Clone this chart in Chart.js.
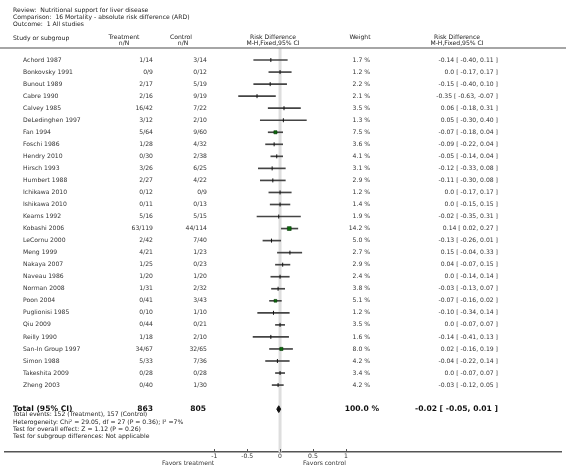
<!DOCTYPE html>
<html>
<head>
<meta charset="utf-8">
<script src="https://cdn.jsdelivr.net/npm/chart.js@4.4.0/dist/chart.umd.min.js"></script>
<style>
  body { margin: 0; background: #fff; }
  canvas { display: block; }
</style>
</head>
<body>
<canvas id="forest" width="566" height="469"></canvas>
<script>
// data
var studies = ['Achord 1987', 'Bonkovsky 1991', 'Bunout 1989', 'Cabre 1990', 'Calvey 1985',
  'DeLedinghen 1997', 'Fan 1994', 'Foschi 1986', 'Hendry 2010', 'Hirsch 1993', 'Humbert 1988',
  'Ichikawa 2010', 'Ishikawa 2010', 'Kearns 1992', 'Kobashi 2006', 'LeCornu 2000', 'Meng 1999',
  'Nakaya 2007', 'Naveau 1986', 'Norman 2008', 'Poon 2004', 'Puglionisi 1985', 'Qiu 2009',
  'Reilly 1990', 'San-In Group 1997', 'Simon 1988', 'Takeshita 2009', 'Zheng 2003'];
var treatment = ['1/14', '0/9', '2/17', '2/16', '16/42', '3/12', '5/64', '1/28', '0/30', '3/26', '2/27',
  '0/12', '0/11', '5/16', '63/119', '2/42', '4/21', '1/25', '1/20', '1/31', '0/41', '0/10', '0/44',
  '1/18', '34/67', '5/33', '0/28', '0/40'];
var control = ['3/14', '0/12', '5/19', '9/19', '7/22', '2/10', '9/60', '4/32', '2/38', '6/25', '4/22',
  '0/9', '0/13', '5/15', '44/114', '7/40', '1/23', '0/23', '1/20', '2/32', '3/43', '1/10', '0/21',
  '2/10', '32/65', '7/36', '0/28', '1/30'];
var weights = [1.7, 1.2, 2.2, 2.1, 3.5, 1.3, 7.5, 3.6, 4.1, 3.1, 2.9, 1.2, 1.4, 1.9, 14.2, 5.0, 2.7,
  2.9, 2.4, 3.8, 5.1, 1.2, 3.5, 1.6, 8.0, 4.2, 3.4, 4.2];
var rd = [-0.14, 0.0, -0.15, -0.35, 0.06, 0.05, -0.07, -0.09, -0.05, -0.12, -0.11, 0.0, 0.0, -0.02,
  0.14, -0.13, 0.15, 0.04, 0.0, -0.03, -0.07, -0.10, 0.0, -0.14, 0.02, -0.04, 0.0, -0.03];
var ciLow = [-0.40, -0.17, -0.40, -0.63, -0.18, -0.30, -0.18, -0.22, -0.14, -0.33, -0.30, -0.17,
  -0.15, -0.35, 0.02, -0.26, -0.04, -0.07, -0.14, -0.13, -0.16, -0.34, -0.07, -0.41, -0.16, -0.22,
  -0.07, -0.12];
var ciHigh = [0.11, 0.17, 0.10, -0.07, 0.31, 0.40, 0.04, 0.04, 0.04, 0.08, 0.08, 0.17, 0.15, 0.31,
  0.27, 0.01, 0.33, 0.15, 0.14, 0.07, 0.02, 0.14, 0.07, 0.13, 0.19, 0.14, 0.07, 0.05];

var totalLabel = 'Total (95% CI)';
var totalN = ['863', '805'];
var totalWeight = 100.0;
var totalRd = -0.02, totalLow = -0.05, totalHigh = 0.01;

var headerLines = ['Review:  Nutritional support for liver disease',
  'Comparison:  16 Mortality - absolute risk difference (ARD)',
  'Outcome:  1 All studies'];
var footerLines = ['Total events: 152 (Treatment), 157 (Control)',
  'Heterogeneity: Chi\u00b2 = 29.05, df = 27 (P = 0.36); I\u00b2 =7%',
  'Test for overall effect: Z = 1.12 (P = 0.26)',
  'Test for subgroup differences: Not applicable'];
var tickValues = [-1, -0.5, 0, 0.5, 1];
var tickLabels = ['-1', '-0.5', '0', '0.5', '1'];
var favorsLabels = ['Favors treatment', 'Favors control'];

var totalRow = studies.length + 1;
var FONT = '"DejaVu Sans", Verdana, sans-serif';

function f(size, bold) { return (bold ? 'bold ' : '') + size + 'px ' + FONT; }
function num(v) { return v === 0 ? '0.0' : v.toFixed(2); }
function ciText(e, lo, hi) { return num(e) + ' [ ' + num(lo) + ', ' + num(hi) + ' ]'; }
function side(w) { return 1.2 + 0.7 * Math.sqrt(w); }

var tablePlugin = {
  id: 'table',
  beforeDatasetsDraw: function (chart) {
    var ctx = chart.ctx, a = chart.chartArea, x0 = chart.scales.x.getPixelForValue(0);
    ctx.save();
    ctx.strokeStyle = '#dedede';
    ctx.lineWidth = 3;
    ctx.beginPath();
    ctx.moveTo(x0, a.top);
    ctx.lineTo(x0, a.bottom);
    ctx.stroke();
    ctx.restore();
  },
  afterDraw: function (chart) {
    var ctx = chart.ctx, a = chart.chartArea, xs = chart.scales.x, ys = chart.scales.y;
    ctx.save();
    ctx.textBaseline = 'middle';
    ctx.fillStyle = '#222';
    ctx.font = f(6.1);
    ctx.textAlign = 'left';
    headerLines.forEach(function (t, i) { ctx.fillText(t, 13, 10 + i * 7); });
    ctx.fillText('Study or subgroup', 13, 38);

    ctx.textAlign = 'center';
    ctx.fillText('Treatment', 124, 37.5);
    ctx.fillText('n/N', 124, 43.5);
    ctx.fillText('Control', 181, 37.5);
    ctx.fillText('n/N', 183, 43.5);
    ctx.fillText('Risk Difference', 273, 37.5);
    ctx.fillText('M-H,Fixed,95% CI', 273, 43.5);
    ctx.fillText('Weight', 360, 37.5);
    ctx.fillText('Risk Difference', 457, 37.5);
    ctx.fillText('M-H,Fixed,95% CI', 457, 43.5);

    // header rule
    ctx.strokeStyle = '#888';
    ctx.lineWidth = 1.5;
    ctx.beginPath();
    ctx.moveTo(0, a.top);
    ctx.lineTo(566, a.top);
    ctx.stroke();

    ctx.fillStyle = '#333';
    studies.forEach(function (s, i) {
      var y = ys.getPixelForValue(i);
      ctx.textAlign = 'left';
      ctx.fillText(s, 23, y);
      ctx.textAlign = 'right';
      ctx.fillText(treatment[i], 153, y);
      ctx.fillText(control[i], 207, y);
      ctx.fillText(weights[i].toFixed(1) + ' %', 370, y);
      ctx.fillText(ciText(rd[i], ciLow[i], ciHigh[i]), 498, y);
    });

    var yt = ys.getPixelForValue(totalRow);
    ctx.fillStyle = '#111';
    ctx.font = f(7.6, true);
    ctx.textAlign = 'left';
    ctx.fillText(totalLabel, 13, yt);
    ctx.textAlign = 'right';
    ctx.fillText(totalN[0], 153, yt);
    ctx.fillText(totalN[1], 206, yt);
    ctx.fillText(totalWeight.toFixed(1) + ' %', 379, yt);
    ctx.fillText(ciText(totalRd, totalLow, totalHigh), 498, yt);

    ctx.font = f(6.1);
    ctx.fillStyle = '#222';
    ctx.textAlign = 'left';
    footerLines.forEach(function (t, i) { ctx.fillText(t, 13, yt + 5.5 + i * 7.3); });

    // upward tick marks on the axis
    ctx.strokeStyle = '#555';
    ctx.lineWidth = 1;
    tickValues.forEach(function (v) {
      var px = Math.round(xs.getPixelForValue(v)) + 0.5;
      ctx.beginPath();
      ctx.moveTo(px, a.bottom);
      ctx.lineTo(px, a.bottom - 3);
      ctx.stroke();
    });

    ctx.fillStyle = '#333';
    ctx.textAlign = 'right';
    ctx.fillText(favorsLabels[0], xs.getPixelForValue(-1), 463);
    ctx.fillText(favorsLabels[1], xs.getPixelForValue(1), 463);
    ctx.restore();
  }
};

var diamondHalf = 0.28;
var ctx = document.getElementById('forest').getContext('2d');
var chart = new Chart(ctx, {
  type: 'scatter',
  data: {
    datasets: [{
      type: 'bar',
      indexAxis: 'y',
      data: studies.map(function (s, i) { return { x: [ciLow[i], ciHigh[i]], y: i }; }),
      backgroundColor: '#444',
      borderWidth: 0,
      barThickness: 1,
      grouped: false,
      order: 3
    }, {
      data: studies.map(function (s, i) { return { x: rd[i], y: i }; }),
      pointStyle: function (c) { return weights[c.dataIndex] > 5 ? 'rect' : 'line'; },
      rotation: function (c) { return weights[c.dataIndex] > 5 ? 0 : 90; },
      radius: function (c) {
        var w = weights[c.dataIndex];
        return w > 5 ? side(w) / Math.SQRT2 : 2;
      },
      backgroundColor: '#0b6b0b',
      borderColor: function (c) { return weights[c.dataIndex] > 5 ? '#063806' : '#111'; },
      borderWidth: function (c) { return weights[c.dataIndex] > 5 ? 0.6 : 1; },
      order: 1
    }, {
      type: 'line',
      data: [{ x: totalLow, y: totalRow }, { x: totalRd, y: totalRow - diamondHalf }, { x: totalHigh, y: totalRow }],
      borderColor: '#111',
      borderWidth: 1,
      backgroundColor: '#111',
      pointRadius: 0,
      tension: 0,
      fill: '+1',
      order: 2
    }, {
      type: 'line',
      data: [{ x: totalLow, y: totalRow }, { x: totalRd, y: totalRow + diamondHalf }, { x: totalHigh, y: totalRow }],
      borderColor: '#111',
      borderWidth: 1,
      pointRadius: 0,
      tension: 0,
      fill: false,
      order: 2
    }]
  },
  options: {
    responsive: false,
    animation: false,
    devicePixelRatio: 1,
    layout: { padding: { top: 48, left: 0, right: 0, bottom: 0 } },
    plugins: { legend: { display: false }, tooltip: { enabled: false } },
    scales: {
      x: {
        type: 'linear',
        min: -280 / 67,
        max: 286 / 67,
        offset: false,
        afterBuildTicks: function (s) { s.ticks = tickValues.map(function (v) { return { value: v }; }); },
        afterFit: function (s) { s.height = 17; },
        grid: { display: false, drawTicks: false, tickLength: 0 },
        border: { display: true, color: '#555', width: 1.5 },
        ticks: {
          autoSkip: false,
          maxRotation: 0,
          padding: 1,
          color: '#333',
          font: { family: FONT, size: 6.1 },
          callback: function (v, i) { return tickLabels[i]; }
        }
      },
      y: {
        type: 'linear',
        display: false,
        reverse: true,
        offset: false,
        grid: { offset: false },
        min: -1,
        max: 32.56
      }
    }
  },
  plugins: [tablePlugin]
});
</script>
</body>
</html>
